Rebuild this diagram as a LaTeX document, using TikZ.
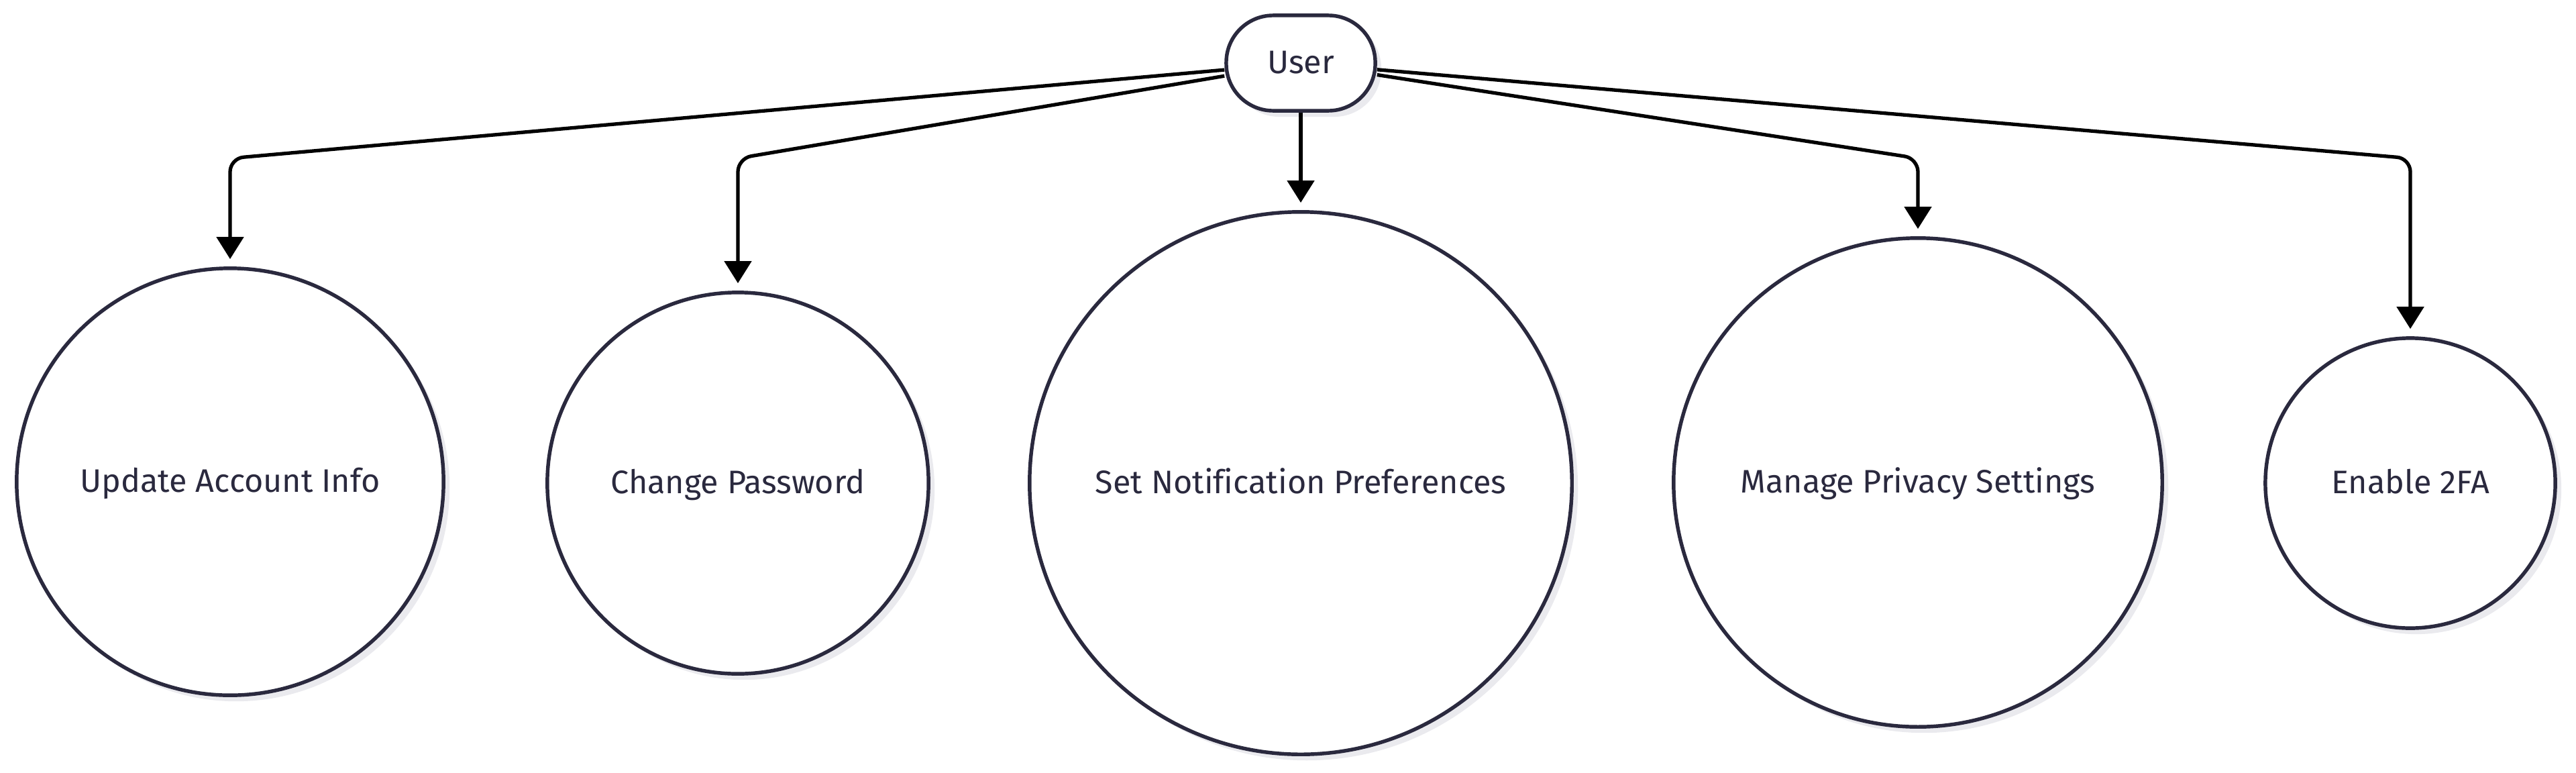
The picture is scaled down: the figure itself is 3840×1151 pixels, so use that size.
\documentclass[tikz,border=0pt]{standalone}
\usepackage{fontspec}
\setmainfont[Ligatures=NoCommon]{Fira Sans}
\usetikzlibrary{arrows.meta,shadows}
\definecolor{navy}{RGB}{42,41,62}
\definecolor{shade}{RGB}{234,234,238}
\tikzset{
  lbl/.style={text=navy, font=\fontsize{13.8}{16}\selectfont, text height=2ex, text depth=0.3ex},
  uc/.style={circle, draw=navy, line width=1.55pt, fill=white, inner sep=0pt, lbl,
    drop shadow={shadow xshift=0.09cm, shadow yshift=-0.09cm, fill=shade, opacity=1}},
  actor/.style={rectangle, rounded corners=0.7cm, draw=navy, line width=1.55pt, fill=white, lbl,
    minimum width=2.22cm, minimum height=1.42cm, inner sep=0pt,
    drop shadow={shadow xshift=0.09cm, shadow yshift=-0.09cm, fill=shade, opacity=1}},
  edge/.style={draw=black, line width=1.5pt, rounded corners=0.2cm,
    -{Triangle[width=0.4cm,length=0.33cm]}, shorten >=0.11cm}
}
\begin{document}
\begin{tikzpicture}[x=0.01cm,y=-0.01cm]
\useasboundingbox (0,0) rectangle (3840,1151);
\node[actor] (user) at (1939,94) {User};
\node[uc, minimum size=6.36cm] (n1) at (343,718) {Update Account Info};
\node[uc, minimum size=5.68cm] (n2) at (1100,720) {Change Password};
\node[uc, minimum size=8.08cm] (n3) at (1939,720) {Set Notification Preferences};
\node[uc, minimum size=7.28cm] (n4) at (2859,719) {Manage Privacy Settings};
\node[uc, minimum size=4.32cm] (n5) at (3593,720) {Enable 2FA};
\coordinate (c1) at (343,236);
\coordinate (c2) at (1100,236);
\coordinate (c4) at (2859,236);
\coordinate (c5) at (3593,236);
\draw[edge] (user) -- (c1) -- (n1.north);
\draw[edge] (user) -- (c2) -- (n2.north);
\draw[edge] (user.south) -- (n3.north);
\draw[edge] (user) -- (c4) -- (n4.north);
\draw[edge] (user) -- (c5) -- (n5.north);
\end{tikzpicture}
\end{document}
